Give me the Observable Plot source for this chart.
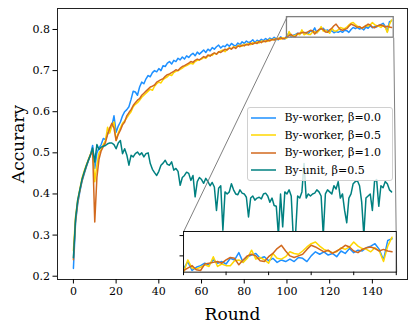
<!DOCTYPE html>
<html><head><meta charset="utf-8">
<script src="https://cdn.jsdelivr.net/npm/d3@7"></script>
<script src="https://cdn.jsdelivr.net/npm/@observablehq/plot@0.6"></script>
<style>
body{margin:0;background:#fff;}
#wrap{position:relative;width:415px;height:330px;font-family:"DejaVu Serif",serif;}
#wrap svg text{font-family:"DejaVu Serif",serif;}
g[aria-label="x-axis label"] text, g[aria-label="y-axis label"] text{font-size:17px;}
#legend{position:absolute;box-sizing:border-box;border:1px solid #d0d0d0;border-radius:3px;background:rgba(255,255,255,0.8);font-size:11px;color:#000;}
#legend .row{position:absolute;left:0;height:17.5px;display:flex;align-items:center;white-space:nowrap;}
#legend svg{margin-left:3px;margin-right:9px;}
</style></head>
<body><div id="wrap"></div>
<script>
const seriesNames = ["By-worker, β=0.0","By-worker, β=0.5","By-worker, β=1.0","By-unit, β=0.5"];
const seriesColors = ["#1e90ff","#ffd700","#d2691e","#008080"];
const xTicks = [0,20,40,60,80,100,120,140];
const yTicks = [0.2,0.3,0.4,0.5,0.6,0.7,0.8];
const insetXTicks = [100,110,120,130,140,150];
const insetYTicks = [0.8,0.825];
const zoomX = [100,150];
const zoomY = [0.78,0.83];

const worker00 = [
0.219,0.330,0.375,0.405,0.430,0.448,0.465,0.480,0.495,0.518,
0.462,0.500,0.512,0.520,0.535,0.532,0.545,0.560,0.565,0.590,
0.550,0.565,0.575,0.590,0.600,0.605,0.612,0.630,0.650,0.648,
0.640,0.660,0.672,0.668,0.680,0.688,0.685,0.695,0.700,0.697,
0.705,0.700,0.712,0.710,0.718,0.722,0.716,0.725,0.722,0.730,
0.726,0.733,0.728,0.736,0.732,0.738,0.742,0.736,0.745,0.740,
0.745,0.750,0.744,0.752,0.748,0.756,0.752,0.758,0.762,0.755,
0.760,0.758,0.764,0.759,0.766,0.762,0.760,0.767,0.763,0.770,
0.766,0.772,0.768,0.770,0.775,0.768,0.774,0.771,0.776,0.773,
0.778,0.774,0.779,0.776,0.781,0.777,0.775,0.782,0.779,0.777,
0.784,0.793,0.782,0.786,0.788,0.791,0.789,0.795,0.791,0.793,
0.790,0.797,0.795,0.804,0.792,0.799,0.801,0.803,0.797,0.799,
0.794,0.797,0.792,0.795,0.793,0.796,0.793,0.798,0.797,0.793,
0.800,0.805,0.802,0.805,0.801,0.803,0.799,0.806,0.803,0.809,
0.804,0.807,0.806,0.810,0.812,0.815,0.808,0.795,0.819,0.821];

const worker05 = [
0.262,0.345,0.385,0.412,0.438,0.455,0.470,0.484,0.497,0.508,
0.430,0.470,0.500,0.508,0.520,0.530,0.562,0.548,0.565,0.575,
0.530,0.548,0.560,0.572,0.578,0.585,0.593,0.600,0.612,0.618,
0.622,0.628,0.635,0.640,0.645,0.650,0.655,0.652,0.662,0.668,
0.672,0.670,0.678,0.682,0.685,0.690,0.688,0.695,0.698,0.700,
0.703,0.706,0.710,0.712,0.715,0.718,0.716,0.722,0.725,0.726,
0.728,0.732,0.730,0.735,0.738,0.737,0.742,0.740,0.745,0.748,
0.750,0.746,0.752,0.755,0.753,0.758,0.756,0.760,0.762,0.759,
0.764,0.762,0.766,0.763,0.768,0.766,0.770,0.767,0.772,0.770,
0.773,0.771,0.776,0.774,0.777,0.775,0.779,0.776,0.780,0.778,
0.779,0.795,0.785,0.784,0.786,0.789,0.787,0.799,0.787,0.790,
0.788,0.788,0.794,0.795,0.792,0.797,0.807,0.796,0.798,0.795,
0.791,0.803,0.797,0.796,0.799,0.805,0.803,0.802,0.806,0.811,
0.815,0.817,0.812,0.808,0.806,0.804,0.805,0.810,0.808,0.811,
0.817,0.812,0.809,0.808,0.805,0.810,0.806,0.793,0.812,0.823];

const worker10 = [
0.240,0.335,0.380,0.408,0.432,0.450,0.467,0.482,0.495,0.505,
0.332,0.440,0.485,0.505,0.515,0.525,0.545,0.560,0.572,0.560,
0.530,0.545,0.555,0.568,0.575,0.590,0.598,0.605,0.615,0.622,
0.628,0.632,0.640,0.645,0.650,0.655,0.660,0.662,0.665,0.672,
0.675,0.678,0.680,0.686,0.690,0.692,0.695,0.698,0.702,0.700,
0.706,0.710,0.712,0.715,0.718,0.722,0.720,0.725,0.728,0.726,
0.730,0.734,0.732,0.738,0.735,0.740,0.743,0.740,0.746,0.744,
0.748,0.752,0.750,0.755,0.752,0.757,0.754,0.760,0.758,0.762,
0.760,0.764,0.762,0.767,0.764,0.768,0.766,0.771,0.768,0.772,
0.770,0.774,0.772,0.776,0.774,0.778,0.776,0.780,0.777,0.779,
0.782,0.785,0.788,0.783,0.782,0.790,0.791,0.792,0.793,0.791,
0.795,0.798,0.797,0.789,0.795,0.800,0.802,0.800,0.794,0.793,
0.799,0.803,0.809,0.813,0.806,0.800,0.798,0.800,0.802,0.808,
0.813,0.811,0.808,0.805,0.807,0.803,0.806,0.809,0.813,0.811,
0.806,0.804,0.808,0.810,0.811,0.809,0.806,0.808,0.806,0.805];

const unit05 = [
0.245,0.340,0.385,0.410,0.435,0.452,0.468,0.482,0.495,0.512,
0.478,0.520,0.508,0.514,0.516,0.518,0.522,0.524,0.524,0.520,
0.510,0.524,0.530,0.498,0.510,0.495,0.470,0.494,0.490,0.498,
0.502,0.495,0.500,0.490,0.498,0.500,0.474,0.460,0.452,0.445,
0.455,0.470,0.475,0.482,0.472,0.470,0.478,0.458,0.462,0.455,
0.421,0.440,0.445,0.453,0.450,0.433,0.445,0.393,0.430,0.440,
0.435,0.426,0.438,0.430,0.420,0.428,0.417,0.360,0.414,0.420,
0.312,0.405,0.400,0.405,0.425,0.410,0.400,0.398,0.410,0.402,
0.400,0.392,0.344,0.390,0.395,0.385,0.390,0.392,0.388,0.400,
0.402,0.395,0.380,0.390,0.372,0.370,0.300,0.400,0.320,0.405,
0.400,0.410,0.395,0.290,0.300,0.395,0.390,0.405,0.474,0.390,
0.400,0.395,0.400,0.402,0.410,0.405,0.395,0.300,0.400,0.410,
0.405,0.400,0.420,0.412,0.430,0.390,0.400,0.360,0.330,0.390,
0.400,0.425,0.430,0.432,0.420,0.380,0.300,0.390,0.395,0.400,
0.360,0.430,0.435,0.370,0.420,0.415,0.430,0.425,0.410,0.405];

// ---- build table ----
const rows = [];
[worker00, worker05, worker10, unit05].forEach((arr, i) =>
  arr.forEach((v, r) => rows.push({round: r, acc: v, series: seriesNames[i]})));

// ---- layout ----
const W = 415, H = 330, mL = 57, mR = 8, mT = 8, mB = 51;
const fw = W - mL - mR, fh = H - mT - mB;
const xDomain = [-7.45, 156.45];
const yDomain = [0.192, 0.851];
const insetFrac = {x0: 0.361, x1: 0.969, y0: 0.028, y1: 0.178};
const iL = mL + insetFrac.x0 * fw, iR = mL + insetFrac.x1 * fw;
const iT = mT + fh - insetFrac.y1 * fh, iB = mT + fh - insetFrac.y0 * fh;

// inset corners in main data space (for the connector lines)
const px2x = d3.scaleLinear().domain([mL, W - mR]).range(xDomain);
const px2y = d3.scaleLinear().domain([mT + fh, mT]).range(yDomain);
const connectors = [
  {x1: zoomX[0], y1: zoomY[1], x2: px2x(iL), y2: px2y(iT)},
  {x1: zoomX[1], y1: zoomY[0], x2: px2x(iR), y2: px2y(iB)}
];

const font = {fontFamily: '"DejaVu Serif", serif', fontSize: "11px", color: "black", background: "transparent", overflow: "visible"};

const main = Plot.plot({
  width: W, height: H, marginLeft: mL, marginRight: mR, marginTop: mT, marginBottom: mB,
  style: font,
  x: {domain: xDomain},
  y: {domain: yDomain},
  color: {domain: seriesNames, range: seriesColors},
  marks: [
    Plot.line(rows, {x: "round", y: "acc", stroke: "series", z: "series", strokeWidth: 1.5}),
    Plot.rect([{x1: zoomX[0], x2: zoomX[1], y1: zoomY[0], y2: zoomY[1]}],
      {x1: "x1", x2: "x2", y1: "y1", y2: "y2", fill: "none", stroke: "#808080", strokeWidth: 1.3}),
    Plot.link(connectors, {x1: "x1", y1: "y1", x2: "x2", y2: "y2", stroke: "#808080", strokeWidth: 1}),
    Plot.frame({stroke: "#222", strokeWidth: 1}),
    Plot.axisX({ticks: xTicks, tickSize: 4.5, tickPadding: 3, label: "Round", labelAnchor: "center", labelArrow: "none", labelOffset: 40}),
    Plot.axisY({ticks: yTicks, tickSize: 4.5, tickPadding: 3, tickFormat: d3.format(".1f"), label: "Accurary", labelAnchor: "center", labelArrow: "none", labelOffset: 46})
  ]
});

const padL = 8, padR = 2, padT = 2, padB = 8;
const inset = Plot.plot({
  width: iR - iL + padL + padR, height: iB - iT + padT + padB,
  marginLeft: padL, marginRight: padR, marginTop: padT, marginBottom: padB,
  style: font,
  x: {domain: zoomX},
  y: {domain: zoomY},
  color: {domain: seriesNames, range: seriesColors},
  marks: [
    Plot.frame({fill: "white"}),
    Plot.line(rows, {x: "round", y: "acc", stroke: "series", z: "series", strokeWidth: 1.5, clip: true}),
    Plot.frame({stroke: "#111", strokeWidth: 1}),
    Plot.axisX({ticks: insetXTicks, tickFormat: () => "", tickSize: 3.5, label: null}),
    Plot.axisY({ticks: insetYTicks, tickFormat: () => "", tickSize: 3.5, label: null})
  ]
});
inset.style.position = "absolute";
inset.style.left = (iL - padL) + "px";
inset.style.top = (iT - padT) + "px";

const wrap = document.getElementById("wrap");
wrap.appendChild(main);
wrap.appendChild(inset);

// legend
const legend = document.createElement("div");
legend.id = "legend";
Object.assign(legend.style, {left: "246.5px", top: "107px", width: "146px", height: "73.5px"});
seriesNames.forEach((name, i) => {
  const row = document.createElement("div");
  row.className = "row";
  row.style.top = (0.8 + i * 17.5) + "px";
  row.innerHTML = `<svg width="25" height="4"><line x1="0" x2="25" y1="2" y2="2" stroke="${seriesColors[i]}" stroke-width="1.5"/></svg><span>${name}</span>`;
  legend.appendChild(row);
});
wrap.appendChild(legend);
</script></body></html>
